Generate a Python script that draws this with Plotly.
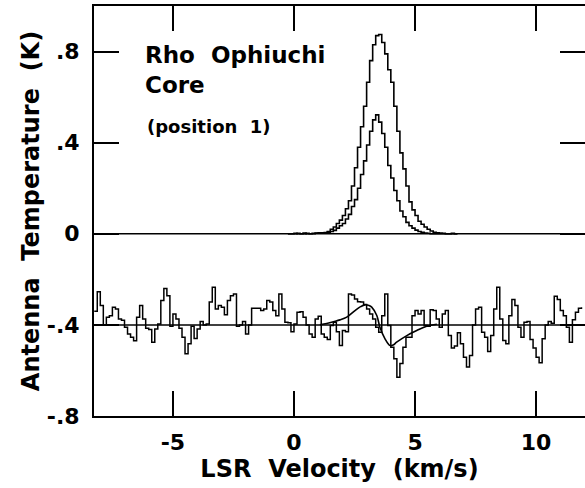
import numpy as np
import plotly.graph_objects as go

# ---- channel grid (km/s): left edges of spectrometer channels ----
v_start = -8.25
dv = 0.125
n_chan = 162
v_chan = v_start + dv * np.arange(n_chan)

# ---- upper spectra (K), channels 64..120 ----
upper_first = 64
tall_profile = [0, 0, 0.002, 0, 0, 0.003, 0, 0, 0.002, 0.003, 0.004, 0.004,
                0.005, 0.01, 0.02, 0.03, 0.045, 0.06, 0.08, 0.11, 0.145, 0.21,
                0.29, 0.38, 0.47, 0.56, 0.665, 0.76, 0.83, 0.87, 0.875, 0.84,
                0.79, 0.72, 0.665, 0.56, 0.45, 0.355, 0.285, 0.21, 0.14, 0.105,
                0.08, 0.055, 0.042, 0.03, 0.02, 0.012, 0.006,
                0.004, 0.003, 0.002, 0, 0, 0.002, 0, 0]
short_profile = [0, 0, 0, 0.002, 0, 0, 0.002, 0, 0, 0.002, 0.002, 0.003,
                 0.003, 0.006, 0.01, 0.015, 0.025, 0.035, 0.045, 0.065, 0.085,
                 0.12, 0.15, 0.2, 0.26, 0.32, 0.39, 0.45, 0.5, 0.522, 0.49,
                 0.44, 0.38, 0.30, 0.245, 0.19, 0.145, 0.1, 0.075, 0.05, 0.035,
                 0.025, 0.016, 0.01, 0.006, 0.003,
                 0.002, 0, 0, 0, 0, 0, 0, 0, 0, 0, 0]

# ---- difference spectrum (K), all channels, plotted with an offset ----
diff_offset = -0.4
diff_spec = [0.06, 0.146, 0.085, 0.0, 0.034, 0.04, 0.077, 0.07, 0.026, 0.02,
             -0.01, -0.04, -0.054, -0.07, 0.034, 0.085, 0.026, -0.015, -0.02, -0.076,
             -0.018, 0.004, 0.107, 0.16, 0.128, -0.006, 0.048, 0.026, -0.015, -0.054,
             -0.127, -0.083, -0.006, -0.06, -0.018, 0.015, 0.0, 0.004, 0.1, 0.165,
             0.07, 0.085, 0.077, 0.044, 0.107, 0.128, 0.136, -0.006, 0.0, 0.015,
             -0.04, 0.0, 0.073, 0.073, 0.073, 0.063, 0.07, 0.107, 0.1, 0.063,
             0.04, 0.136, 0.07, 0.012, 0.009, -0.03, 0.004, 0.055, 0.058, 0.034,
             0.0, -0.04, -0.054, 0.026, 0.038, -0.04, -0.054, -0.064, -0.003, 0.012,
             -0.03, -0.09, -0.025, -0.03, 0.136, 0.131, 0.114, 0.102, 0.1, 0.09,
             0.07, 0.048, 0.026, -0.01, -0.032, 0.04, 0.136, -0.003, -0.098, -0.149,
             -0.23, -0.17, -0.098, -0.054, -0.054, 0.04, 0.063, 0.048, 0.063, -0.003,
             -0.006, 0.067, 0.063, 0.026, -0.01, 0.048, 0.063, -0.047, -0.102, -0.093,
             -0.035, -0.083, -0.142, -0.185, -0.134, 0.0, 0.07, 0.077, -0.032, -0.054,
             -0.117, -0.047, 0.07, 0.165, 0.026, -0.069, -0.083, 0.04, 0.111, 0.085,
             -0.01, -0.054, 0.012, 0.015, -0.064, -0.102, -0.142, -0.166, -0.061, 0.0,
             0.015, 0.007, 0.126, 0.111, 0.063, 0.04, -0.01, -0.076, 0.023, 0.055,
             0.073, 0.077]

# ---- model curve for the difference spectrum ----
fit_v = [1.07, 1.35, 1.63, 1.9, 2.18, 2.52, 2.75, 2.93, 3.1, 3.21, 3.42, 3.55,
         3.76, 3.97, 4.1, 4.24, 4.66, 5.07, 5.48, 5.9]
fit_d = [0.0, 0.006, 0.014, 0.022, 0.034, 0.063, 0.08, 0.088, 0.085, 0.078, 0.041, -0.01,
         -0.061, -0.091, -0.088, -0.076, -0.047, -0.025, -0.006, 0.003]

baselines = [0.0, diff_offset]

x_ticks = [-5, 0, 5, 10]
x_ticktext = ["-5", "0", "5", "10"]
y_ticks = [-0.8, -0.4, 0, 0.4, 0.8]
y_ticktext = ["-.8", "-.4", "0", ".4", ".8"]

x_range = [-8.26, 12.02]
y_range = [-0.8, 1.0]

FONT = "DejaVu Sans"
ink = "black"

fig = go.Figure()

v_up = v_chan[upper_first:upper_first + len(tall_profile)]
fig.add_trace(go.Scatter(x=v_up, y=tall_profile, mode="lines", line_shape="hv",
                         line=dict(color=ink, width=1.6), showlegend=False))
fig.add_trace(go.Scatter(x=v_up, y=short_profile, mode="lines", line_shape="hv",
                         line=dict(color=ink, width=1.6), showlegend=False))

for b in baselines:
    fig.add_trace(go.Scatter(x=x_range, y=[b, b], mode="lines", yaxis="y2",
                             line=dict(color=ink, width=1.5), showlegend=False))

fig.add_trace(go.Scatter(x=v_chan, y=np.array(diff_spec) + diff_offset, mode="lines",
                         line_shape="hv", line=dict(color=ink, width=1.5), showlegend=False))
fig.add_trace(go.Scatter(x=fit_v, y=np.array(fit_d) + diff_offset, mode="lines",
                         line_shape="spline", line=dict(color=ink, width=1.6), showlegend=False))

tickfont = dict(family=FONT, size=22, color=ink, weight="bold")
titlefont = dict(family=FONT, size=24, color=ink, weight="bold")

fig.update_layout(
    width=585, height=488,
    margin=dict(l=94, r=0, t=6, b=72, autoexpand=False),
    paper_bgcolor="white", plot_bgcolor="white",
    xaxis=dict(range=x_range, tickvals=x_ticks, ticktext=x_ticktext,
               ticks="inside", ticklen=25, tickwidth=2, tickcolor=ink,
               showline=True, linewidth=2, linecolor=ink, mirror="ticks",
               showgrid=False, zeroline=False, tickfont=tickfont,
               ticklabelstandoff=6, automargin=False,
               title=dict(text="LSR\u00a0 Velocity\u00a0 (km/s)", font=titlefont, standoff=5)),
    yaxis=dict(range=y_range, tickvals=y_ticks, ticktext=y_ticktext,
               ticks="inside", ticklen=25, tickwidth=2, tickcolor=ink,
               showline=True, linewidth=2, linecolor=ink,
               showgrid=False, zeroline=False, tickfont=tickfont,
               ticklabelstandoff=8, automargin=False,
               title=dict(text="Antenna\u00a0 Temperature\u00a0 (K)", font=titlefont, standoff=0)),
    yaxis2=dict(range=y_range, overlaying="y", side="right",
                tickvals=y_ticks[1:], ticks="inside", ticklen=25, tickwidth=2,
                tickcolor=ink, showticklabels=False, showline=False,
                showgrid=False, zeroline=False, automargin=False),
)

ann_font_big = dict(family=FONT, size=23, color=ink, weight="bold")
ann_font_small = dict(family=FONT, size=18, color=ink, weight="bold")
fig.add_annotation(x=-6.24, y=0.785, xref="x", yref="y", text="Rho\u00a0 Ophiuchi",
                   showarrow=False, xanchor="left", yanchor="middle", font=ann_font_big)
fig.add_annotation(x=-6.24, y=0.655, xref="x", yref="y", text="Core",
                   showarrow=False, xanchor="left", yanchor="middle", font=ann_font_big)
fig.add_annotation(x=-6.16, y=0.47, xref="x", yref="y", text="(position\u00a0 1)",
                   showarrow=False, xanchor="left", yanchor="middle", font=ann_font_small)

fig.write_html("out.html", config={"displayModeBar": False},
               post_script="document.body.style.margin='0';document.body.style.overflow='hidden';")
